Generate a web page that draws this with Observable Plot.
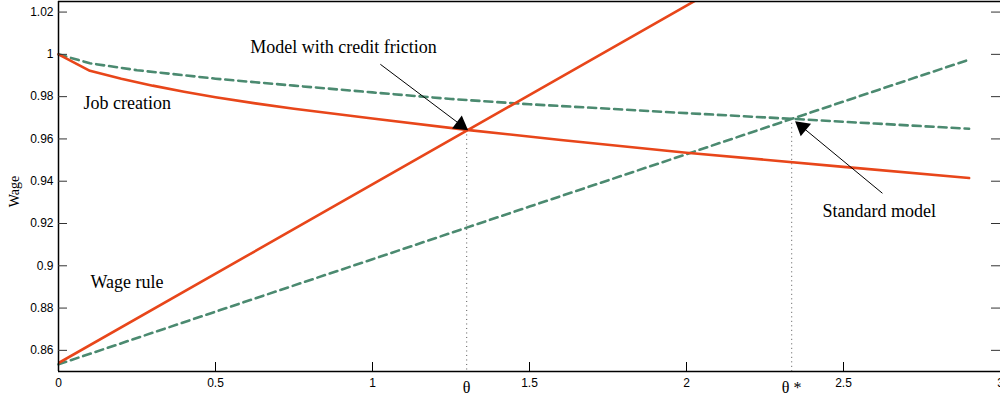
<!DOCTYPE html>
<html><head><meta charset="utf-8">
<script src="https://cdn.jsdelivr.net/npm/d3@7"></script>
<script src="https://cdn.jsdelivr.net/npm/@observablehq/plot@0.6"></script>
<style>body{margin:0;background:#fff} svg{display:block}</style>
</head><body><div id="chart"></div>
<script>
// ---- data ----
const xTicks = [0, 0.5, 1, 1.5, 2, 2.5, 3];
const yTicks = [0.86, 0.88, 0.9, 0.92, 0.94, 0.96, 0.98, 1, 1.02];

// Model with credit friction (red, solid)
const creditJobX = [0, 0.1, 0.2, 0.3, 0.4, 0.5, 0.627, 0.75, 1, 1.3, 1.6, 2, 2.5, 2.9];
const creditJobY = [1, 0.9922, 0.9885, 0.9852, 0.9823, 0.9797, 0.9768, 0.9743, 0.9697, 0.9643, 0.9595, 0.9535, 0.9468, 0.9415];
const creditWageX = [0, 2.1];
const creditWageY = [0.854, 1.0315];

// Standard model (green, dashed)
const stdJobX = [0, 0.1, 0.25, 0.5, 0.627, 0.75, 1, 1.25, 1.5, 1.726, 2, 2.335, 2.6, 2.9];
const stdJobY = [1, 0.9958, 0.9925, 0.9885, 0.9868, 0.9852, 0.9820, 0.9789, 0.9764, 0.9745, 0.9722, 0.9695, 0.9673, 0.9648];
const stdWageX = [0, 0.5, 1, 1.5, 2, 2.5, 2.9];
const stdWageY = [0.8534, 0.8783, 0.9031, 0.928, 0.9528, 0.9777, 0.9975];

// equilibria
const thetaX = [1.3, 2.335];
const thetaY = [0.964, 0.9695];
const thetaLabels = ["θ", "θ *"];

// annotations
const noteText = ["Model with credit friction", "Job creation", "Standard model", "Wage rule"];
const noteX = [0.611, 0.08, 2.433, 0.102];
const noteY = [1.0033, 0.9768, 0.9257, 0.892];

const arrowX1 = [1.025, 2.624];
const arrowY1 = [0.9953, 0.9343];
const arrowX2 = [1.296, 2.354];
const arrowY2 = [0.965, 0.9674];

// ---- layout ----
const W = 1000, H = 398, mL = 58, mR = 0, mT = 1, mB = 27;
const pw = W - mL - mR, ph = H - mT - mB;
const xDom = [0, 3], yDom = [0.85, 1.025];
const kx = pw / (xDom[1] - xDom[0]), ky = ph / (yDom[1] - yDom[0]);

const RED = "#e8461a", GREEN = "#4b8a70";
const SERIF = "Liberation Serif, Times New Roman, serif";
const pts = (xs, ys) => xs.map((x, i) => ({x, y: ys[i]}));

const arrows = arrowX1.map((x1, i) => {
  const dxp = (arrowX2[i] - x1) * kx, dyp = -(arrowY2[i] - arrowY1[i]) * ky;
  const len = Math.hypot(dxp, dyp);
  const back = 6 / len;
  return {
    x1, y1: arrowY1[i],
    hx: arrowX2[i] - (arrowX2[i] - x1) * back,
    hy: arrowY2[i] - (arrowY2[i] - arrowY1[i]) * back,
    rot: Math.atan2(dxp, -dyp) * 180 / Math.PI
  };
});

const thetas = thetaX.map((x, i) => ({x, y: thetaY[i], label: thetaLabels[i]}));
const notes = noteText.map((t, i) => ({t, x: noteX[i], y: noteY[i]}));

const chart = Plot.plot({
  width: W, height: H,
  marginLeft: mL, marginRight: mR, marginTop: mT, marginBottom: mB,
  x: {domain: xDom},
  y: {domain: yDom},
  style: {fontFamily: "Liberation Sans, Arial, sans-serif", fontSize: "12px", color: "#000", background: "#fff"},
  marks: [
    Plot.ruleX(thetas, {x: "x", y1: "y", y2: yDom[0], stroke: "#555", strokeWidth: 1, strokeDasharray: "1,3.5"}),
    Plot.line(pts(stdJobX, stdJobY), {x: "x", y: "y", stroke: GREEN, strokeWidth: 2.6, strokeDasharray: "8,5"}),
    Plot.line(pts(stdWageX, stdWageY), {x: "x", y: "y", stroke: GREEN, strokeWidth: 2.6, strokeDasharray: "8,5"}),
    Plot.line(pts(creditJobX, creditJobY), {x: "x", y: "y", stroke: RED, strokeWidth: 2.6}),
    Plot.line(pts(creditWageX, creditWageY), {x: "x", y: "y", stroke: RED, strokeWidth: 2.6, clip: true}),
    Plot.ruleY([yDom[1]], {stroke: "#000", strokeWidth: 1.5}),
    Plot.ruleY([yDom[0]], {stroke: "#000", strokeWidth: 1.5}),
    Plot.ruleX([xDom[0]], {stroke: "#000", strokeWidth: 1.5}),
    Plot.tickY(yTicks, {y: d => d, insetRight: pw - 9, stroke: "#333", strokeWidth: 1}),
    Plot.tickY(yTicks, {y: d => d, insetLeft: pw - 9, stroke: "#333", strokeWidth: 1}),
    Plot.tickX(xTicks, {x: d => d, insetTop: ph - 9, stroke: "#000", strokeWidth: 1}),
    Plot.axisY(yTicks, {anchor: "left", tickSize: 0, tickPadding: 5, label: null, tickFormat: d => String(d)}),
    Plot.axisX(xTicks, {anchor: "bottom", tickSize: 0, tickPadding: 7, label: null, tickFormat: d => String(d)}),
    Plot.text(["Wage"], {frameAnchor: "left", textAnchor: "middle", dx: -44, dy: 5, rotate: -90, fontFamily: SERIF, fontSize: 14}),
    Plot.text(thetas, {x: "x", text: "label", frameAnchor: "bottom", dy: 21, fontFamily: SERIF, fontSize: 16}),
    Plot.text(notes, {x: "x", y: "y", text: "t", textAnchor: "start", fontFamily: SERIF, fontSize: 18}),
    Plot.link(arrows, {x1: "x1", y1: "y1", x2: "hx", y2: "hy", stroke: "#000", strokeWidth: 1}),
    Plot.dot(arrows, {x: "hx", y: "hy", symbol: "triangle", rotate: "rot", r: 6, fill: "#000", stroke: "none"})
  ]
});
document.getElementById("chart").append(chart);
</script>
</body></html>
